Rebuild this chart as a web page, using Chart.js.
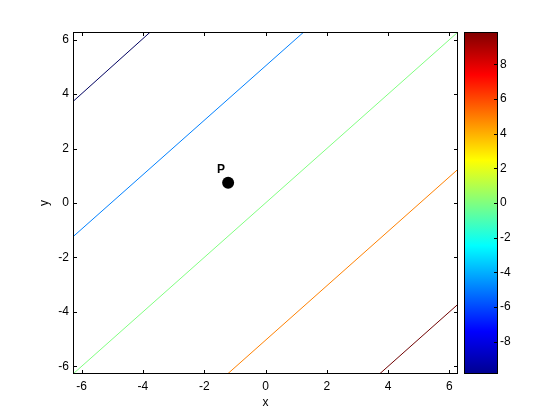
<!DOCTYPE html>
<html>
<head>
<meta charset="utf-8">
<script src="https://cdn.jsdelivr.net/npm/chart.js@4"></script>
<style>
  body { margin: 0; background: #ffffff; }
  #wrap { position: relative; width: 560px; height: 420px; }
  canvas { position: absolute; left: 0; top: 0; }
</style>
</head>
<body>
<div id="wrap">
  <canvas id="mainChart" width="560" height="420"></canvas>
  <canvas id="barChart" width="560" height="420"></canvas>
</div>
<script>
// contour lines (z = x - y), end points
let contourLevels = [-10, -5, 0, 5, 10];
let contourColors = ['#000060', '#0080ff', '#80ff80', '#ff8000', '#700000'];
let contourStartX = [-6.283, -6.283, -6.283, -1.24, 3.72];
let contourStartY = [3.73, -1.24, -6.283, -6.283, -6.283];
let contourEndX = [-3.76, 1.25, 6.283, 6.283, 6.283];
let contourEndY = [6.283, 6.283, 6.283, 1.24, -3.72];

let pointX = [-1.22];
let pointY = [0.74];
let pointLabel = ['P'];

let axisMin = -2 * Math.PI;
let axisMax = 2 * Math.PI;
let xTicks = [-6, -4, -2, 0, 2, 4, 6];
let yTicks = [-6, -4, -2, 0, 2, 4, 6];

let cbMin = -9.87;
let cbMax = 9.87;
let cbTicks = [-8, -6, -4, -2, 0, 2, 4, 6, 8];

let tickFont = { family: "'Liberation Sans', Arial, sans-serif", size: 12 };

function drawInwardTicks(ctx, scale, ticks, area, sides, len)
{
    ticks.forEach(function(v) {
        let p = Math.round(scale.getPixelForValue(v)) + 0.5;
        sides.forEach(function(side) {
            ctx.beginPath();
            if (side === 'bottom') { ctx.moveTo(p, area.bottom); ctx.lineTo(p, area.bottom - len); }
            if (side === 'top') { ctx.moveTo(p, area.top); ctx.lineTo(p, area.top + len); }
            if (side === 'left') { ctx.moveTo(area.left, p); ctx.lineTo(area.left + len, p); }
            if (side === 'right') { ctx.moveTo(area.right, p); ctx.lineTo(area.right - len, p); }
            ctx.stroke();
        });
    });
}

let boxPlugin = {
    id: 'boxPlugin',
    afterDraw: function(chart) {
        let ctx = chart.ctx;
        let a = chart.chartArea;
        ctx.save();
        ctx.strokeStyle = '#000000';
        ctx.lineWidth = 1;
        ctx.strokeRect(Math.round(a.left) + 0.5, Math.round(a.top) + 0.5,
                       Math.round(a.right - a.left) - 1, Math.round(a.bottom - a.top) - 1);
        if (chart.canvas.id === 'mainChart') {
            drawInwardTicks(ctx, chart.scales.x, xTicks, a, ['top', 'bottom'], 4);
            drawInwardTicks(ctx, chart.scales.y, yTicks, a, ['left', 'right'], 4);
            // label of the point
            ctx.fillStyle = '#000000';
            ctx.font = "bold 12px 'Liberation Sans', Arial, sans-serif";
            ctx.textAlign = 'center';
            ctx.textBaseline = 'middle';
            pointLabel.forEach(function(t, i) {
                let px = chart.scales.x.getPixelForValue(pointX[i]);
                let py = chart.scales.y.getPixelForValue(pointY[i]);
                ctx.fillText(t, px - 7, py - 13);
            });
        } else {
            drawInwardTicks(ctx, chart.scales.y, cbTicks, a, ['right'], 4);
        }
        ctx.restore();
    }
};

let mainDatasets = contourLevels.map(function(lvl, i) {
    return {
        label: 'z = ' + lvl,
        data: [ { x: contourStartX[i], y: contourStartY[i] }, { x: contourEndX[i], y: contourEndY[i] } ],
        showLine: true,
        borderColor: contourColors[i],
        borderWidth: 1,
        pointRadius: 0
    };
});
mainDatasets.push({
    label: 'P',
    data: pointX.map(function(x, i) { return { x: x, y: pointY[i] }; }),
    showLine: false,
    pointRadius: 6,
    pointBackgroundColor: '#000000',
    pointBorderColor: '#000000',
    pointBorderWidth: 0
});

new Chart(document.getElementById('mainChart'), {
    type: 'scatter',
    data: { datasets: mainDatasets },
    options: {
        responsive: false,
        animation: false,
        devicePixelRatio: 1,
        layout: { padding: { left: 0, top: 32, right: 102, bottom: 0 } },
        plugins: { legend: { display: false }, tooltip: { enabled: false } },
        scales: {
            x: {
                type: 'linear', min: axisMin, max: axisMax,
                afterBuildTicks: function(s) { s.ticks = xTicks.map(function(v) { return { value: v }; }); },
                afterFit: function(s) { s.height = 46; },
                grid: { display: false, drawTicks: false },
                border: { display: false },
                ticks: { color: '#000000', font: tickFont, padding: 5, maxRotation: 0 },
                title: { display: true, text: 'x', color: '#000000', font: tickFont, padding: { top: 0, bottom: 10 } }
            },
            y: {
                type: 'linear', min: axisMin, max: axisMax,
                afterBuildTicks: function(s) { s.ticks = yTicks.map(function(v) { return { value: v }; }); },
                afterFit: function(s) { s.width = 73; },
                grid: { display: false, drawTicks: false },
                border: { display: false },
                ticks: { color: '#000000', font: tickFont, padding: 4 },
                title: { display: true, text: 'y', color: '#000000', font: tickFont, padding: { top: 37, bottom: 0 } }
            }
        }
    },
    plugins: [boxPlugin]
});

function jetGradient(context)
{
    let chart = context.chart;
    let a = chart.chartArea;
    if (!a) return '#00ffff';
    let g = chart.ctx.createLinearGradient(0, a.bottom, 0, a.top);
    g.addColorStop(0, '#00008f');
    g.addColorStop(0.125, '#0000ff');
    g.addColorStop(0.375, '#00ffff');
    g.addColorStop(0.625, '#ffff00');
    g.addColorStop(0.875, '#ff0000');
    g.addColorStop(1, '#800000');
    return g;
}

new Chart(document.getElementById('barChart'), {
    type: 'bar',
    data: {
        labels: [''],
        datasets: [{
            data: [[cbMin, cbMax]],
            backgroundColor: jetGradient,
            borderWidth: 0,
            barPercentage: 1,
            categoryPercentage: 1
        }]
    },
    options: {
        responsive: false,
        animation: false,
        devicePixelRatio: 1,
        layout: { padding: { left: 464, top: 32, right: 0, bottom: 46 } },
        plugins: { legend: { display: false }, tooltip: { enabled: false } },
        scales: {
            x: { display: false },
            y: {
                position: 'right',
                min: cbMin, max: cbMax,
                afterBuildTicks: function(s) { s.ticks = cbTicks.map(function(v) { return { value: v }; }); },
                afterFit: function(s) { s.width = 62; },
                grid: { display: false, drawTicks: false },
                border: { display: false },
                ticks: { color: '#000000', font: tickFont, padding: 2 }
            }
        }
    },
    plugins: [boxPlugin]
});
</script>
</body>
</html>
